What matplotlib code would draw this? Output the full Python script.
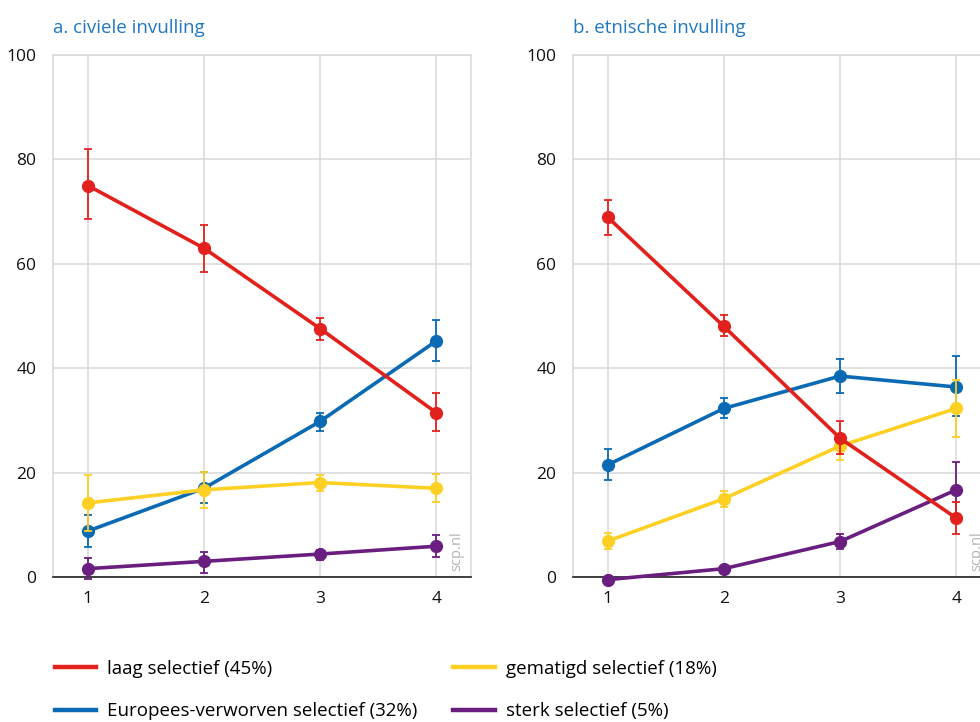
import matplotlib
matplotlib.use('Agg')
import matplotlib.pyplot as plt
import numpy as np

plt.rcParams['font.family'] = ['Open Sans', 'DejaVu Sans']

x = [1, 2, 3, 4]
x_labels = ['1', '2', '3', '4']
y_ticks = [0, 20, 40, 60, 80, 100]

labels = ['laag selectief (45%)', 'Europees-verworven selectief (32%)',
          'gematigd selectief (18%)', 'sterk selectief (5%)']
colors = ['#e2211c', '#0a6ab3', '#fdd023', '#6a1f80']

# panel a: civiele invulling  (mean, lower, upper)
a_laag = [75.0, 63.0, 47.6, 31.5]
a_laag_lo = [68.5, 58.4, 45.5, 28.0]
a_laag_hi = [81.9, 67.5, 49.7, 35.2]
a_euro = [8.8, 17.0, 29.8, 45.2]
a_euro_lo = [5.8, 14.1, 27.9, 41.4]
a_euro_hi = [11.8, 20.2, 31.5, 49.2]
a_gem = [14.2, 16.7, 18.1, 17.0]
a_gem_lo = [8.9, 13.3, 16.5, 14.3]
a_gem_hi = [19.5, 20.2, 19.5, 19.8]
a_sterk = [1.6, 3.0, 4.4, 5.9]
a_sterk_lo = [-0.3, 0.8, 3.3, 3.9]
a_sterk_hi = [3.7, 4.8, 5.2, 8.0]

# panel b: etnische invulling
b_laag = [68.9, 48.0, 26.6, 11.3]
b_laag_lo = [65.5, 46.1, 23.6, 8.2]
b_laag_hi = [72.3, 50.1, 29.8, 14.3]
b_euro = [21.5, 32.3, 38.5, 36.4]
b_euro_lo = [18.6, 30.4, 35.3, 30.8]
b_euro_hi = [24.5, 34.2, 41.7, 42.3]
b_gem = [6.9, 15.0, 25.1, 32.3]
b_gem_lo = [5.4, 13.5, 22.4, 26.8]
b_gem_hi = [8.4, 16.5, 27.4, 37.8]
b_sterk = [-0.5, 1.6, 6.8, 16.7]
b_sterk_lo = [-0.9, 1.1, 5.4, 11.4]
b_sterk_hi = [-0.1, 2.1, 8.3, 22.0]

panels = [
    ('a. civiele invulling',
     [(a_laag, a_laag_lo, a_laag_hi), (a_euro, a_euro_lo, a_euro_hi),
      (a_gem, a_gem_lo, a_gem_hi), (a_sterk, a_sterk_lo, a_sterk_hi)]),
    ('b. etnische invulling',
     [(b_laag, b_laag_lo, b_laag_hi), (b_euro, b_euro_lo, b_euro_hi),
      (b_gem, b_gem_lo, b_gem_hi), (b_sterk, b_sterk_lo, b_sterk_hi)]),
]

fig = plt.figure(figsize=(9.8, 7.22), dpi=100)
grid_col = '#d9d9d9'
title_col = '#1f78c1'

# draw order: blue, yellow, purple, red on top
order = [1, 2, 3, 0]

for k, (title, series) in enumerate(panels):
    left = 53 / 980 if k == 0 else 573 / 980
    ax = fig.add_axes([left, 0.2008, 0.4265, 0.723])
    ax.set_xlim(0.7, 4.3)
    ax.set_ylim(0, 100)
    ax.set_xticks(x)
    ax.set_xticklabels(x_labels)
    ax.set_yticks(y_ticks)
    ax.tick_params(length=0, labelsize=12.5, colors='#111111')
    ax.tick_params(axis='y', pad=12)
    ax.tick_params(axis='x', pad=10)
    ax.grid(True, color=grid_col, linewidth=1.1)
    ax.set_axisbelow(True)
    for s in ['left', 'top', 'right']:
        ax.spines[s].set_color(grid_col)
        ax.spines[s].set_linewidth(1.1)
    ax.spines['bottom'].set_color('#222222')
    ax.spines['bottom'].set_linewidth(1.2)

    for i in order:
        m, lo, hi = series[i]
        m = np.array(m)
        yerr = [m - np.array(lo), np.array(hi) - m]
        ax.errorbar(x, m, yerr=yerr, color=colors[i], lw=2.6,
                    marker='o', ms=8.5, elinewidth=1.3, capsize=3,
                    capthick=1.3, label=labels[i], clip_on=False,
                    zorder=3 + order.index(i))

    ax.text(0, 1.035, title, transform=ax.transAxes, color=title_col,
            fontsize=13.5, ha='left', va='bottom')
    ax.text(0.965, 0.012, 'scp.nl', transform=ax.transAxes, rotation=90,
            color='#b5b5b5', fontsize=10.5, ha='center', va='bottom')

leg_handles = [plt.Line2D([0], [0], color=c, lw=3.2) for c in colors]
fig.legend(leg_handles, labels, ncol=2, loc='upper left',
           bbox_to_anchor=(38 / 980, 1 - 643 / 722), frameon=False,
           fontsize=13.5, handlelength=2.2, handletextpad=0.6,
           columnspacing=1.9, labelspacing=1.3)

fig.savefig('out.png', dpi=100)
